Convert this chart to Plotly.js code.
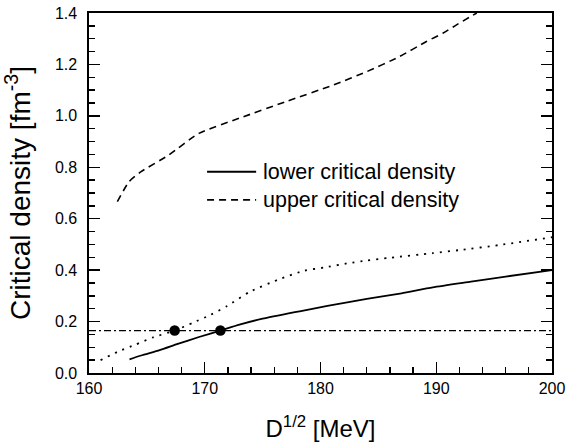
<!DOCTYPE html>
<html>
<head>
<meta charset="utf-8">
<script src="https://cdn.plot.ly/plotly-3.0.1.min.js"></script>
<style>html,body{margin:0;padding:0;background:#fff;}#chart{width:566px;height:442px;}</style>
</head>
<body>
<div id="chart"></div>
<script>
// Lower critical density (solid)
var lowerX = [163.5, 164.5, 166.1, 167.6, 169.5, 171.35, 173.0, 175.0, 178.2, 180.6, 184.0, 187.0, 189.7, 193.0, 196.0, 200.0];
var lowerY = [0.053, 0.068, 0.089, 0.112, 0.140, 0.165, 0.188, 0.211, 0.240, 0.261, 0.288, 0.310, 0.333, 0.355, 0.375, 0.400];
// Upper critical density (dashed)
var upperX = [162.45, 163.46, 164.5, 166.9, 169.5, 173.0, 177.0, 181.1, 184.0, 186.8, 189.15, 190.6, 191.75, 193.5];
var upperY = [0.666, 0.744, 0.783, 0.848, 0.932, 0.991, 1.055, 1.120, 1.172, 1.230, 1.289, 1.322, 1.354, 1.400];
// Dotted curve
var dotX = [161.0, 162.5, 164.0, 165.5, 167.4, 169.0, 170.5, 171.95, 173.9, 176.3, 178.6, 180.3, 182.4, 184.0, 186.0, 189.7, 192.0, 195.5, 200.0];
var dotY = [0.050, 0.083, 0.110, 0.138, 0.165, 0.196, 0.226, 0.261, 0.316, 0.362, 0.398, 0.410, 0.427, 0.437, 0.448, 0.466, 0.478, 0.498, 0.528];
// Reference density (dash-dot) and crossing points
var refX = [160, 200];
var refY = [0.165, 0.165];
var crossX = [167.4, 171.35];
var crossY = [0.165, 0.165];
var seriesNames = ['lower critical density', 'upper critical density'];
var xTitle = 'D<sup>1/2</sup> [MeV]';
var yTitle = 'Critical density [fm<sup>-3</sup>]';

var F = 'Liberation Sans, Arial, sans-serif';
var solidDash = 'solid', dashedDash = '7px,5px';
var traces = [
  {x: lowerX, y: lowerY, mode: 'lines', name: seriesNames[0], showlegend: false,
   line: {color: '#000', width: 1.8, shape: 'spline', smoothing: 0.6, dash: solidDash}},
  {x: upperX, y: upperY, mode: 'lines', name: seriesNames[1], showlegend: false,
   line: {color: '#000', width: 1.6, dash: dashedDash, shape: 'spline', smoothing: 0.6}},
  {x: dotX, y: dotY, mode: 'lines', showlegend: false,
   line: {color: '#000', width: 1.8, dash: '2px,6px', shape: 'spline', smoothing: 0.6}},
  {x: refX, y: refY, mode: 'lines', showlegend: false,
   line: {color: '#000', width: 1.3, dash: '7px,3px,2px,3px'}},
  {x: crossX, y: crossY, mode: 'markers', showlegend: false,
   marker: {color: '#000', size: 10.5}}
];

// Legend drawn as line samples + text (paper coordinates)
var legendRows = [0.559, 0.481];
var legendDashes = [solidDash, dashedDash];
var shapes = legendRows.map(function (yy, i) {
  return {type: 'line', xref: 'paper', yref: 'paper', x0: 0.255, x1: 0.361, y0: yy, y1: yy,
          line: {color: '#000', width: i === 0 ? 1.8 : 1.6, dash: legendDashes[i]}};
});
var annotations = legendRows.map(function (yy, i) {
  return {xref: 'paper', yref: 'paper', x: 0.371, y: yy, xanchor: 'left', yanchor: 'middle',
          showarrow: false, text: seriesNames[i], font: {family: F, size: 21.5, color: '#000'}};
});

var layout = {
  width: 566, height: 442,
  margin: {l: 89, r: 14, t: 13, b: 69},
  font: {family: F, color: '#000'},
  showlegend: false,
  xaxis: {
    range: [160, 200], dtick: 10, tick0: 160,
    showgrid: false, zeroline: false, showline: true, linecolor: '#000', linewidth: 1.6, mirror: true,
    ticks: 'inside', ticklen: 11, tickwidth: 1.4, tickcolor: '#000',
    tickfont: {family: F, size: 16, color: '#000'},
    minor: {dtick: 2, ticks: 'inside', ticklen: 6, tickwidth: 1.3, tickcolor: '#000'},
    title: {text: xTitle, font: {size: 24}, standoff: 24}
  },
  yaxis: {
    range: [0, 1.4], dtick: 0.2, tick0: 0, tickformat: '.1f',
    showgrid: false, zeroline: false, showline: true, linecolor: '#000', linewidth: 1.6, mirror: 'ticks',
    ticks: 'inside', ticklen: 11, tickwidth: 1.4, tickcolor: '#000', ticklabelstandoff: 7,
    tickfont: {family: F, size: 16, color: '#000'},
    minor: {dtick: 0.05, ticks: 'inside', ticklen: 6, tickwidth: 1.3, tickcolor: '#000'},
    title: {text: yTitle, font: {size: 28}, standoff: 18}
  },
  shapes: shapes,
  annotations: annotations
};

// Re-layer copies of the library's own tick marks on top so they are always painted
function raiseTicks(gd) {
  var svgs = gd.querySelectorAll('svg.main-svg');
  if (!svgs.length) return;
  var top = svgs[svgs.length - 1];
  var old = gd.querySelectorAll('g.tickcopy');
  for (var k = 0; k < old.length; k++) old[k].parentNode.removeChild(old[k]);
  var g = document.createElementNS('http://www.w3.org/2000/svg', 'g');
  g.setAttribute('class', 'tickcopy');
  var paths = gd.querySelectorAll('path.xtick, path.ytick');
  for (var i = 0; i < paths.length; i++) {
    var c = paths[i].cloneNode(true);
    c.setAttribute('stroke', '#000');
    g.appendChild(c);
  }
  top.appendChild(g);
}
Plotly.newPlot('chart', traces, layout, {staticPlot: true}).then(function (gd) {
  raiseTicks(gd);
  gd.on && gd.on('plotly_afterplot', function () { raiseTicks(gd); });
  setTimeout(function () { raiseTicks(gd); }, 150);
  setTimeout(function () { raiseTicks(gd); }, 600);
});
</script>
</body>
</html>
